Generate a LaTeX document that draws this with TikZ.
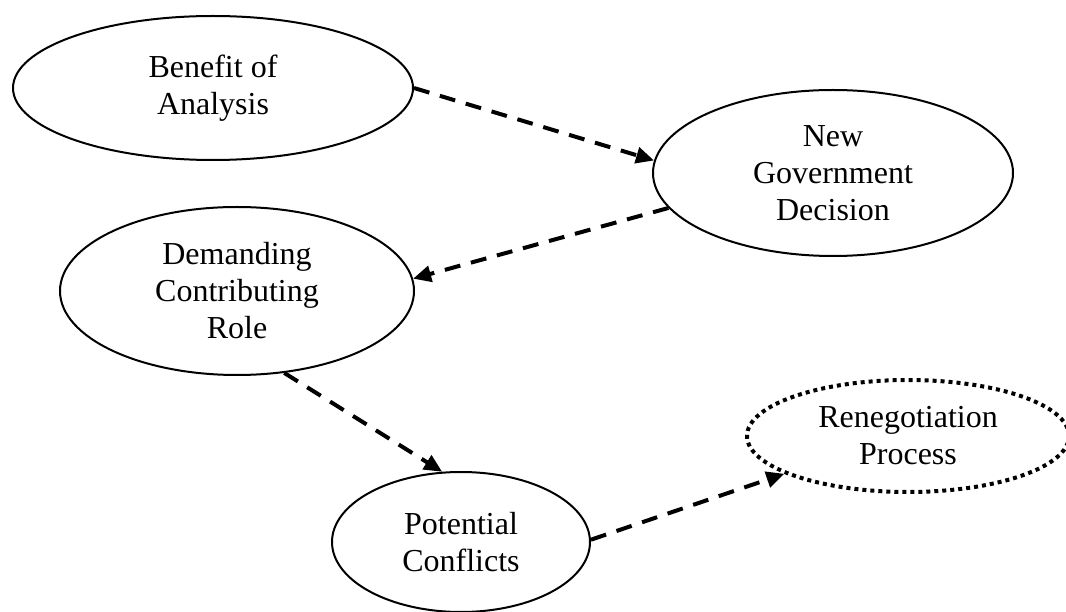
\documentclass[tikz,border=0pt]{standalone}
\usepackage{fontspec}
\setmainfont{Liberation Serif}
\usetikzlibrary{shapes.geometric,arrows.meta}
\tikzset{
  oval/.style={draw, ellipse, line width=2pt, inner sep=0pt, align=center,
    font=\fontsize{32}{37}\selectfont},
  dotoval/.style={oval, line width=4pt, dash pattern=on 4pt off 4pt},
  flow/.style={line width=4pt, dash pattern=on 16pt off 11pt,
    -{Triangle[length=18pt,width=16pt]}}
}
\begin{document}
\begin{tikzpicture}[x=1pt,y=1pt]
\useasboundingbox (0,0) rectangle (1066,611);
\node[oval, minimum width=400pt, minimum height=144pt] (ben) at (213,523) {Benefit of\\Analysis};
\node[oval, minimum width=360pt, minimum height=166pt] (gov) at (833,438) {New\\Government\\Decision};
\node[oval, minimum width=354pt, minimum height=168pt] (dem) at (237,320) {Demanding\\Contributing\\Role};
\node[oval, minimum width=258pt, minimum height=140pt] (pot) at (461,69) {Potential\\Conflicts};
\node[dotoval, minimum width=322pt, minimum height=112pt] (ren) at (908,175) {Renegotiation\\Process};
\draw[flow] (ben.0) -- (gov.176);
\draw[flow] (gov.192) -- (dem.4);
\draw[flow] (dem.300) -- (pot.105);
\draw[flow] (pot.1) -- (ren.197);
\end{tikzpicture}
\end{document}
